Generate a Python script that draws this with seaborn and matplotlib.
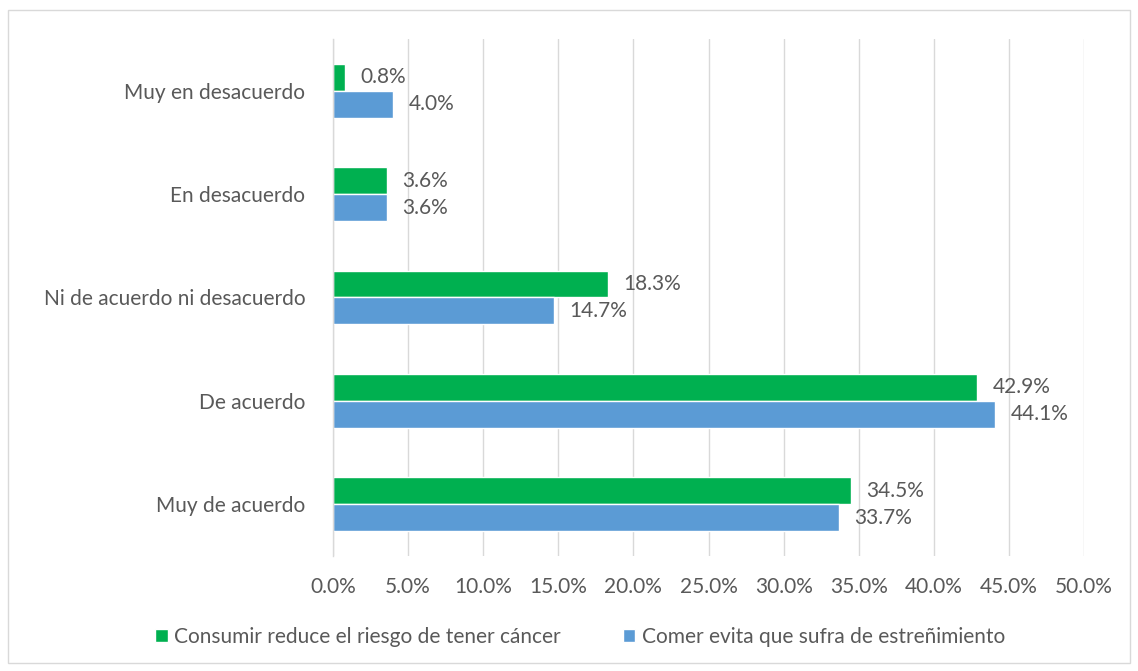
import matplotlib
matplotlib.use("Agg")
import matplotlib.pyplot as plt
import seaborn as sns
import pandas as pd
from matplotlib.patches import Rectangle
from matplotlib.ticker import FuncFormatter, MultipleLocator

categories = ["Muy en desacuerdo", "En desacuerdo", "Ni de acuerdo ni desacuerdo",
              "De acuerdo", "Muy de acuerdo"]
series_names = ["Consumir reduce el riesgo de tener cáncer",
                "Comer evita que sufra de estreñimiento"]
cancer = [0.8, 3.6, 18.3, 42.9, 34.5]
estrenimiento = [4.0, 3.6, 14.7, 44.1, 33.7]
colors = ["#00B050", "#5B9BD5"]

df = pd.DataFrame({
    "cat": categories * 2,
    "serie": [series_names[0]] * 5 + [series_names[1]] * 5,
    "val": cancer + estrenimiento,
})

sns.set_theme(style="white")
plt.rcParams["font.family"] = ["Lato", "DejaVu Sans"]
txt = "#595959"
fs = 15

fig = plt.figure(figsize=(11.38, 6.71), dpi=100)
ax = fig.add_axes([333/1138, 1 - 556/671, (1084-333)/1138, (556-39)/671])

sns.barplot(data=df, y="cat", x="val", hue="serie", order=categories,
            hue_order=series_names, palette=colors, orient="h",
            width=0.52, ax=ax, saturation=1, legend=True)

for cont in ax.containers:
    ax.bar_label(cont, labels=[f"{v:.1f}%" for v in cont.datavalues],
                 padding=11, fontsize=fs, color=txt)

ax.set_xlim(0, 50)
ax.xaxis.set_major_locator(MultipleLocator(5))
ax.xaxis.set_major_formatter(FuncFormatter(lambda v, p: f"{v:.1f}%"))
ax.grid(axis="x", color="#D9D9D9", linewidth=1)
ax.set_axisbelow(True)
ax.set_xlabel("")
ax.set_ylabel("")
for s in ["top", "right", "bottom"]:
    ax.spines[s].set_visible(False)
ax.spines["left"].set_color("#D9D9D9")
ax.spines["left"].set_linewidth(1)
ax.tick_params(axis="both", length=0, labelsize=fs, labelcolor=txt)
ax.tick_params(axis="x", pad=15)
ax.tick_params(axis="y", pad=20)

handles, labels = ax.get_legend_handles_labels()
ax.legend_.remove()
fig.legend(handles, labels, loc="center", bbox_to_anchor=(580/1138, 1 - 637/671),
           ncol=2, frameon=False, fontsize=fs, labelcolor=txt,
           handlelength=0.6, handleheight=0.6, handletextpad=0.3, columnspacing=3)

fig.patches.append(Rectangle((8/1138, 8/671), (1130-8)/1138, (661-8)/671,
                             transform=fig.transFigure, fill=False,
                             edgecolor="#D9D9D9", linewidth=1))

fig.savefig("out.png", dpi=100, facecolor="white")
